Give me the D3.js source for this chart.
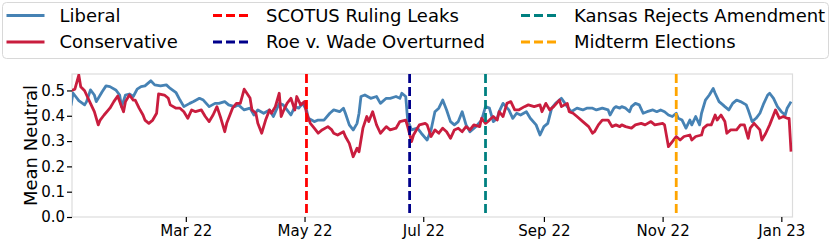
<!DOCTYPE html>
<meta charset="utf-8">
<style>
    body { margin: 0; background: #fff; }
    text { font-family: "DejaVu Sans", sans-serif; fill: #000; }
</style>
<svg width="831" height="240"></svg>

<script src="https://d3js.org/d3.v7.min.js"></script>
<script>
    // days counted from 1 Jan 2022
    var libDays = [0,1,2,4,7,8,10,12,13,16,18,20,23,25,26,28,30,32,34,36,38,41,43,46,49,51,54,56,58,61,63,66,68,71,74,76,79,81,84,86,89,92,94,96,99,102,104,107,109,111,113,115,117,119,121,122,125,127,130,133,135,138,140,141,143,145,147,148,149,151,154,157,159,162,164,167,169,170,172,173,175,178,180,183,185,187,189,191,193,195,197,199,201,203,205,208,211,213,215,217,219,220,222,225,227,229,231,234,236,239,241,243,245,247,249,252,255,257,260,263,265,268,270,273,276,277,279,280,282,283,285,287,288,290,292,294,296,299,301,303,305,307,309,311,312,314,316,318,319,321,323,324,326,328,330,331,333,335,336,338,340,342,344,347,348,350,352,354,356,358,359,361,363,365,367,368,370];
    var libVals = [.44,.49,.48,.46,.443,.456,.502,.482,.456,.495,.518,.515,.502,.482,.436,.482,.486,.476,.505,.515,.518,.538,.522,.518,.522,.508,.491,.462,.436,.449,.456,.469,.462,.436,.449,.449,.456,.443,.436,.443,.423,.43,.403,.423,.41,.423,.397,.449,.443,.423,.403,.436,.43,.449,.423,.39,.377,.383,.383,.41,.423,.416,.43,.41,.364,.344,.37,.41,.476,.482,.469,.476,.449,.469,.469,.476,.469,.489,.476,.383,.344,.351,.331,.304,.344,.416,.43,.462,.423,.377,.364,.377,.416,.364,.337,.357,.383,.436,.43,.377,.39,.416,.449,.423,.39,.41,.403,.416,.39,.364,.324,.357,.37,.43,.449,.469,.436,.416,.43,.423,.43,.43,.423,.43,.423,.403,.43,.436,.43,.436,.43,.416,.436,.449,.443,.41,.416,.423,.416,.423,.416,.403,.397,.41,.39,.383,.351,.383,.364,.397,.364,.41,.462,.482,.508,.489,.456,.443,.436,.423,.449,.462,.456,.443,.423,.377,.39,.41,.449,.482,.489,.469,.436,.416,.403,.43,.456];

    var conDays = [0,2,4,5,7,8,10,12,14,15,17,20,22,24,26,27,28,30,32,33,35,37,38,40,42,44,45,48,50,51,54,56,58,60,62,64,67,69,71,73,75,77,79,80,83,85,87,89,92,93,95,96,98,100,102,103,105,107,108,109,111,113,115,116,118,120,121,123,125,127,129,132,134,135,137,140,141,143,145,147,148,150,152,153,155,157,159,162,164,167,169,172,173,175,176,179,182,183,185,187,189,191,193,195,197,199,201,203,205,207,210,211,213,215,217,219,220,222,224,226,228,230,233,235,238,241,242,244,246,248,251,252,255,256,258,260,263,266,268,269,271,273,276,278,280,282,283,285,288,290,293,295,298,300,304,305,307,309,311,313,315,318,319,321,324,325,327,329,331,332,334,336,337,339,342,344,346,348,349,351,354,355,357,359,362,364,366,368,369,370];
    var conVals = [.499,.505,.561,.515,.499,.482,.449,.416,.364,.383,.403,.43,.456,.478,.436,.416,.456,.482,.462,.462,.43,.403,.383,.37,.383,.41,.486,.482,.469,.443,.43,.43,.416,.39,.423,.416,.423,.397,.377,.403,.436,.39,.337,.37,.43,.449,.449,.505,.47,.423,.41,.37,.331,.383,.423,.41,.436,.489,.397,.416,.449,.469,.423,.476,.443,.456,.41,.37,.351,.331,.344,.357,.344,.331,.324,.337,.318,.291,.238,.272,.258,.351,.397,.377,.416,.364,.331,.357,.344,.351,.377,.383,.357,.298,.324,.364,.37,.364,.318,.344,.331,.351,.337,.311,.344,.351,.337,.357,.344,.364,.357,.39,.37,.383,.397,.383,.416,.397,.449,.456,.423,.423,.436,.443,.436,.443,.416,.449,.423,.436,.462,.436,.449,.416,.41,.397,.377,.357,.331,.337,.364,.383,.383,.357,.364,.357,.364,.357,.351,.364,.37,.364,.377,.364,.37,.364,.278,.298,.318,.304,.318,.324,.304,.318,.324,.351,.364,.364,.403,.383,.403,.377,.331,.344,.344,.364,.364,.311,.351,.37,.344,.304,.331,.364,.423,.39,.397,.39,.39,.258];

    var eventNames = ["SCOTUS Ruling Leaks", "Roe v. Wade Overturned", "Kansas Rejects Amendment", "Midterm Elections"];
    var eventDates = ["2022-05-02", "2022-06-24", "2022-08-02", "2022-11-08"];
    var eventColors = ["#ff0000", "#00008b", "#008080", "#ffa500"];

    var yTicks = [0, 0.1, 0.2, 0.3, 0.4, 0.5];
    var xTickDates = ["2022-03-01", "2022-05-01", "2022-07-01", "2022-09-01", "2022-11-01", "2023-01-01"];

    var LIB_COLOR = "#4682b4",
        CON_COLOR = "#c91d3e",
        LW = 2.8,
        LEFT = 72, RIGHT = 792.5, TOP = 74, BOTTOM = 217,
        parse = d3.timeParse("%Y-%m-%d"),
        start = new Date(2022, 0, 1),
        dayDate = function (d) { return d3.timeDay.offset(start, d); };

    var svg = d3.select("svg");

    var x = d3.scaleTime()
        .domain([start, new Date(2023, 0, 7)])
        .range([71, 793]);
    var y = d3.scaleLinear()
        .domain([0, 0.565])
        .range([BOTTOM, TOP]);

    var libData = libDays.map(function (d, i) { return {date: dayDate(d), v: libVals[i]}; });
    var conData = conDays.map(function (d, i) { return {date: dayDate(d), v: conVals[i]}; });

    svg.append("clipPath").attr("id", "clip")
        .append("rect")
        .attr("x", LEFT).attr("y", TOP)
        .attr("width", RIGHT - LEFT).attr("height", BOTTOM - TOP);

    // frame
    svg.append("rect")
        .attr("x", LEFT).attr("y", TOP)
        .attr("width", RIGHT - LEFT).attr("height", BOTTOM - TOP)
        .attr("fill", "none")
        .attr("stroke", "#dcdcdc")
        .attr("stroke-width", 1.2);

    var line = d3.line()
        .x(function (d) { return x(d.date); })
        .y(function (d) { return y(d.v); });

    var plot = svg.append("g").attr("clip-path", "url(#clip)");

    plot.append("path").datum(libData)
        .attr("d", line)
        .attr("fill", "none")
        .attr("stroke", LIB_COLOR)
        .attr("stroke-width", LW)
        .attr("stroke-linejoin", "round");

    plot.append("path").datum(conData)
        .attr("d", line)
        .attr("fill", "none")
        .attr("stroke", CON_COLOR)
        .attr("stroke-width", LW)
        .attr("stroke-linejoin", "round");

    plot.selectAll(".event")
        .data(eventDates)
        .enter()
        .append("line")
        .attr("class", "event")
        .attr("x1", function (d) { return x(parse(d)); })
        .attr("x2", function (d) { return x(parse(d)); })
        .attr("y1", TOP)
        .attr("y2", BOTTOM)
        .attr("stroke", function (d, i) { return eventColors[i]; })
        .attr("stroke-width", LW)
        .attr("stroke-dasharray", "9,4");

    // axes
    var yAxis = svg.append("g")
        .attr("transform", "translate(" + LEFT + ",0)")
        .call(d3.axisLeft(y).tickValues(yTicks).tickFormat(d3.format(".1f")).tickSize(5).tickPadding(2));
    var xAxis = svg.append("g")
        .attr("transform", "translate(0," + BOTTOM + ")")
        .call(d3.axisBottom(x).tickValues(xTickDates.map(parse)).tickFormat(d3.timeFormat("%b %y")).tickSize(5).tickPadding(3));

    [yAxis, xAxis].forEach(function (a) {
        a.select(".domain").remove();
        a.selectAll(".tick line").attr("stroke", "#000").attr("stroke-width", 1.2);
        a.selectAll(".tick text").attr("font-size", 15).attr("font-family", "DejaVu Sans").attr("fill", "#000");
    });

    svg.append("text")
        .attr("transform", "translate(31," + ((TOP + BOTTOM) / 2) + ") rotate(-90)")
        .attr("text-anchor", "middle")
        .attr("dy", "0.35em")
        .attr("font-size", 18)
        .text("Mean Neutral");

    // legend
    var legendItems = [
        {name: "Liberal", color: LIB_COLOR, dash: null},
        {name: "Conservative", color: CON_COLOR, dash: null}
    ].concat(eventNames.map(function (n, i) {
        return {name: n, color: eventColors[i], dash: "9,4"};
    }));
    var colX = [6.5, 213, 521],
        rowY = [15.5, 42];

    svg.append("rect")
        .attr("x", 2.5).attr("y", 2.5)
        .attr("width", 826).attr("height", 56)
        .attr("rx", 4)
        .attr("fill", "#fff")
        .attr("stroke", "#d8d8d8");

    var item = svg.selectAll(".legend")
        .data(legendItems)
        .enter()
        .append("g")
        .attr("class", "legend")
        .attr("transform", function (d, i) {
            return "translate(" + colX[Math.floor(i / 2)] + "," + rowY[i % 2] + ")";
        });

    item.append("line")
        .attr("x1", 0).attr("x2", 38)
        .attr("stroke", function (d) { return d.color; })
        .attr("stroke-width", LW)
        .attr("stroke-dasharray", function (d) { return d.dash; });

    item.append("text")
        .attr("x", 53)
        .attr("dy", "0.35em")
        .attr("font-size", 18)
        .text(function (d) { return d.name; });
</script>
